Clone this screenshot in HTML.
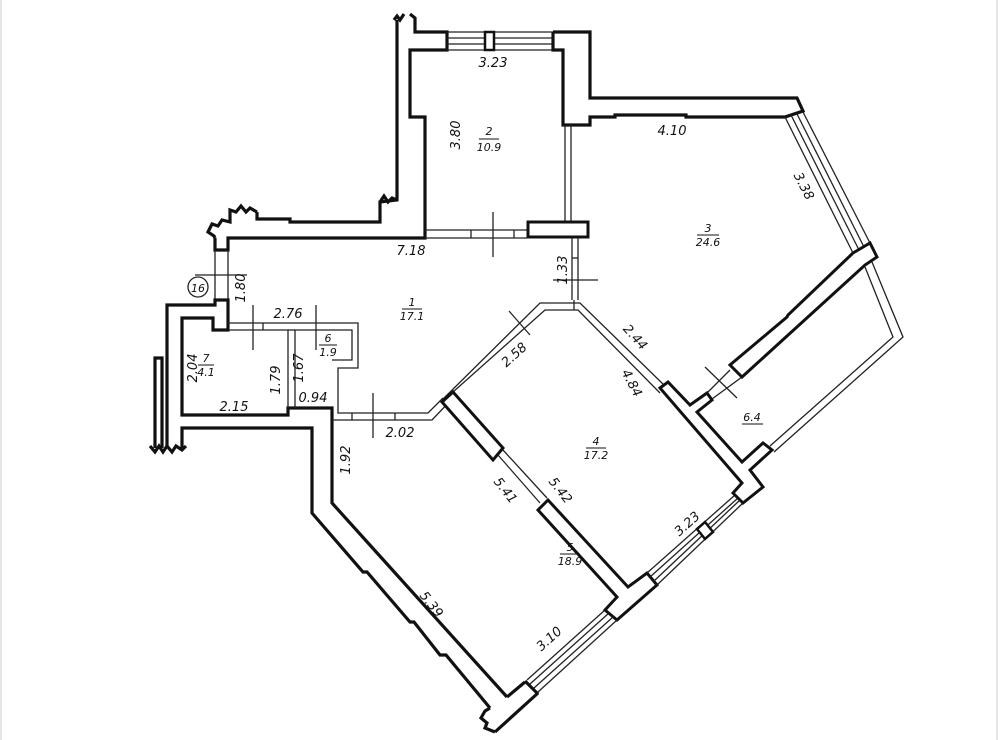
<!DOCTYPE html>
<html><head><meta charset="utf-8"><style>
html,body{margin:0;padding:0;background:#fff;}
svg{display:block;}
text{font-family:"DejaVu Sans","Liberation Sans",sans-serif;font-style:italic;font-size:13px;fill:#111;}
.t{stroke:#111;stroke-width:3.2;fill:#fff;stroke-linejoin:miter;}
.tl{stroke:#111;stroke-width:3.2;fill:none;}
.n{stroke:#222;stroke-width:1.3;fill:none;}
</style></head><body>
<svg width="1000" height="740" viewBox="0 0 1000 740" xmlns="http://www.w3.org/2000/svg">
<rect x="0" y="0" width="1000" height="740" fill="#fff"/>
<line x1="1" y1="0" x2="1" y2="740" stroke="#ccc" stroke-width="1"/>
<line x1="997" y1="0" x2="997" y2="740" stroke="#ccc" stroke-width="1"/>

<polyline class="tl" points="397,20 397,200 380,202 380,222 290,222 290,219 257,219 257,212"/>
<polyline class="tl" points="404,14 400,20 397,16 394,20"/>
<polyline class="tl" points="257,212 250,208 246,212 241,206 236,212 230,210 230,222 222,220 218,226 212,224 208,232 214,236 215,238"/>
<polyline class="tl" points="380,202 384,196 388,202 392,198 397,200"/>
<polyline class="tl" points="215,238 215,250 228,250 228,238 425,238 425,117 410,117 410,50 447,50 447,32 415,32 415,18 410,14"/>
<line class="n" x1="447" y1="32" x2="553" y2="32"/>
<line class="n" x1="447" y1="38" x2="553" y2="38"/>
<line class="n" x1="447" y1="44" x2="553" y2="44"/>
<line class="n" x1="447" y1="50" x2="553" y2="50"/>
<rect class="t" x="485" y="32" width="9" height="18" style="stroke-width:2.5"/>
<polyline class="tl" points="553,32 590,32 590,98 797,98 803,111 785,117 686,117 686,115 615,115 615,117 590,117 590,125 563,125 563,50 553,50 553,32"/>
<line class="n" x1="785" y1="117" x2="853" y2="253"/>
<line class="n" x1="791" y1="115" x2="859" y2="250"/>
<line class="n" x1="797" y1="114" x2="864" y2="247"/>
<line class="n" x1="803" y1="112" x2="870" y2="243"/>
<line class="n" x1="565" y1="125" x2="565" y2="222"/>
<line class="n" x1="571" y1="125" x2="571" y2="222"/>
<line class="n" x1="425" y1="230" x2="527" y2="230"/>
<line class="n" x1="425" y1="238" x2="527" y2="238"/>
<line class="n" x1="471" y1="230" x2="471" y2="238"/>
<line class="n" x1="514" y1="230" x2="514" y2="238"/>
<line class="n" x1="493" y1="212" x2="493" y2="257"/>
<rect class="t" x="528" y="222" width="60" height="15" style="stroke-width:3"/>
<line class="n" x1="572" y1="238" x2="572" y2="300"/>
<line class="n" x1="578" y1="238" x2="578" y2="300"/>
<line class="n" x1="572" y1="258" x2="578" y2="258"/>
<line class="n" x1="553" y1="280" x2="598" y2="280"/>
<line class="n" x1="215" y1="250" x2="215" y2="300"/>
<line class="n" x1="228" y1="250" x2="228" y2="300"/>
<line class="n" x1="195" y1="275" x2="247" y2="275"/>
<circle cx="198" cy="287" r="10" fill="none" stroke="#222" stroke-width="1.3"/>
<text x="198" y="292" text-anchor="middle" style="font-size:11px">16</text>
<polyline class="tl" points="155,448 155,358 162,358 162,448"/>
<polyline class="tl" points="167,448 167,305 215,305 215,300 228,300 228,330 213,330 213,318 182,318 182,415 288,415 288,408 332,408 332,503 507,697"/>
<polyline class="tl" points="182,448 182,428 312,428 312,513 363,572 367,572 410,622 414,622 440,655 446,655 490,708"/>
<polyline class="tl" points="150,446 155,452 159,446 163,452 167,446 172,452 176,446 182,450 186,446"/>
<polyline class="tl" points="490,708 485,711 481,718 487,723 485,728 495,732"/>
<polyline class="n" points="228,323 358,323 358,368 338,368 338,413 428,413 443,398"/>
<polyline class="n" points="228,330 288,330 288,408"/>
<polyline class="n" points="295,408 295,330 352,330 352,360 332,360"/>
<line class="n" x1="263" y1="323" x2="263" y2="330"/>
<line class="n" x1="288" y1="330" x2="295" y2="330"/>
<line class="n" x1="253" y1="305" x2="253" y2="350"/>
<line class="n" x1="316" y1="305" x2="316" y2="350"/>
<polyline class="n" points="332,420 432,420 453,398"/>
<line class="n" x1="352" y1="413" x2="352" y2="420"/>
<line class="n" x1="395" y1="413" x2="395" y2="420"/>
<line class="n" x1="373" y1="393" x2="373" y2="438"/>
<polyline class="n" points="442,400 540,303 580,303 665,386"/>
<polyline class="n" points="453,392 545,310 578,310 660,393"/>
<line class="n" x1="509" y1="311" x2="530" y2="335"/>
<line class="n" x1="574" y1="300" x2="574" y2="310"/>
<polygon class="t" points="442,402 453,392 503,448 493,460" style="stroke-width:3"/>
<line class="n" x1="498" y1="455" x2="540" y2="503"/>
<line class="n" x1="503" y1="450" x2="547" y2="498"/>
<polygon class="t" points="538,510 548,500 628,587 647,573 657,585 617,620 605,610 617,597" style="stroke-width:3"/>
<line class="n" x1="605" y1="610" x2="527" y2="680"/>
<line class="n" x1="609" y1="613" x2="530" y2="684"/>
<line class="n" x1="613" y1="617" x2="534" y2="688"/>
<line class="n" x1="617" y1="620" x2="538" y2="692"/>
<polyline class="tl" points="507,697 525,682"/>
<line class="tl" x1="525" y1="681" x2="538" y2="694"/>
<line class="tl" x1="538" y1="693" x2="495" y2="732"/>
<line class="n" x1="647" y1="573" x2="735" y2="495"/>
<line class="n" x1="650" y1="577" x2="738" y2="498"/>
<line class="n" x1="654" y1="581" x2="740" y2="500"/>
<line class="n" x1="657" y1="585" x2="743" y2="503"/>
<polygon class="t" points="697,529 705,522 713,532 705,539" style="stroke-width:2.5"/>
<polygon class="t" points="660,388 668,382 690,405 707,393 712,400 697,412 742,462 763,443 772,450 750,470 763,487 743,503 733,493 742,483" style="stroke-width:3"/>
<line class="n" x1="707" y1="393" x2="730" y2="370"/>
<line class="n" x1="712" y1="399" x2="742" y2="377"/>
<line class="n" x1="705" y1="367" x2="737" y2="398"/>
<polygon class="t" points="853,253 870,243 877,257 865,265 742,377 730,365 787,317 788,315" style="stroke-width:3"/>
<polyline class="n" points="865,267 893,337 770,446"/>
<polyline class="n" points="872,262 903,337 774,452"/>
<text x="493" y="67" text-anchor="middle">3.23</text>
<text transform="translate(460,135) rotate(-90)" text-anchor="middle">3.80</text>
<text x="489" y="135" text-anchor="middle" style="font-size:11px">2</text>
<line x1="479" y1="139" x2="499" y2="139" stroke="#111"/>
<text x="489" y="151" text-anchor="middle" style="font-size:11px">10.9</text>
<text x="672" y="135" text-anchor="middle">4.10</text>
<text transform="translate(800,188) rotate(63)" text-anchor="middle">3.38</text>
<text x="708" y="232" text-anchor="middle" style="font-size:11px">3</text>
<line x1="697" y1="235" x2="719" y2="235" stroke="#111"/>
<text x="708" y="246" text-anchor="middle" style="font-size:11px">24.6</text>
<text x="411" y="255" text-anchor="middle">7.18</text>
<text transform="translate(567,270) rotate(-90)" text-anchor="middle">1.33</text>
<text transform="translate(245,288) rotate(-90)" text-anchor="middle">1.80</text>
<text x="288" y="318" text-anchor="middle">2.76</text>
<text x="412" y="306" text-anchor="middle" style="font-size:11px">1</text>
<line x1="402" y1="309" x2="422" y2="309" stroke="#111"/>
<text x="412" y="320" text-anchor="middle" style="font-size:11px">17.1</text>
<text x="328" y="342" text-anchor="middle" style="font-size:11px">6</text>
<line x1="319" y1="345" x2="337" y2="345" stroke="#111"/>
<text x="328" y="356" text-anchor="middle" style="font-size:11px">1.9</text>
<text x="206" y="362" text-anchor="middle" style="font-size:11px">7</text>
<line x1="198" y1="365" x2="214" y2="365" stroke="#111"/>
<text x="206" y="376" text-anchor="middle" style="font-size:11px">4.1</text>
<text transform="translate(197,368) rotate(-90)" text-anchor="middle">2.04</text>
<text transform="translate(280,380) rotate(-90)" text-anchor="middle">1.79</text>
<text transform="translate(303,368) rotate(-90)" text-anchor="middle">1.67</text>
<text x="234" y="411" text-anchor="middle">2.15</text>
<text x="313" y="402" text-anchor="middle">0.94</text>
<text x="400" y="437" text-anchor="middle">2.02</text>
<text transform="translate(517,358) rotate(-42)" text-anchor="middle">2.58</text>
<text transform="translate(632,340) rotate(48)" text-anchor="middle">2.44</text>
<text transform="translate(628,385) rotate(62)" text-anchor="middle">4.84</text>
<text x="596" y="445" text-anchor="middle" style="font-size:11px">4</text>
<line x1="586" y1="448" x2="606" y2="448" stroke="#111"/>
<text x="596" y="459" text-anchor="middle" style="font-size:11px">17.2</text>
<text x="752" y="421" text-anchor="middle" style="font-size:11px">6.4</text>
<line x1="742" y1="424" x2="763" y2="424" stroke="#111"/>
<text transform="translate(350,460) rotate(-90)" text-anchor="middle">1.92</text>
<text transform="translate(502,493) rotate(52)" text-anchor="middle">5.41</text>
<text transform="translate(557,493) rotate(52)" text-anchor="middle">5.42</text>
<text x="570" y="551" text-anchor="middle" style="font-size:11px">5</text>
<line x1="560" y1="554" x2="580" y2="554" stroke="#111"/>
<text x="570" y="565" text-anchor="middle" style="font-size:11px">18.9</text>
<text transform="translate(690,527) rotate(-42)" text-anchor="middle">3.23</text>
<text transform="translate(428,607) rotate(52)" text-anchor="middle">5.39</text>
<text transform="translate(552,642) rotate(-42)" text-anchor="middle">3.10</text>
</svg>
</body></html>
